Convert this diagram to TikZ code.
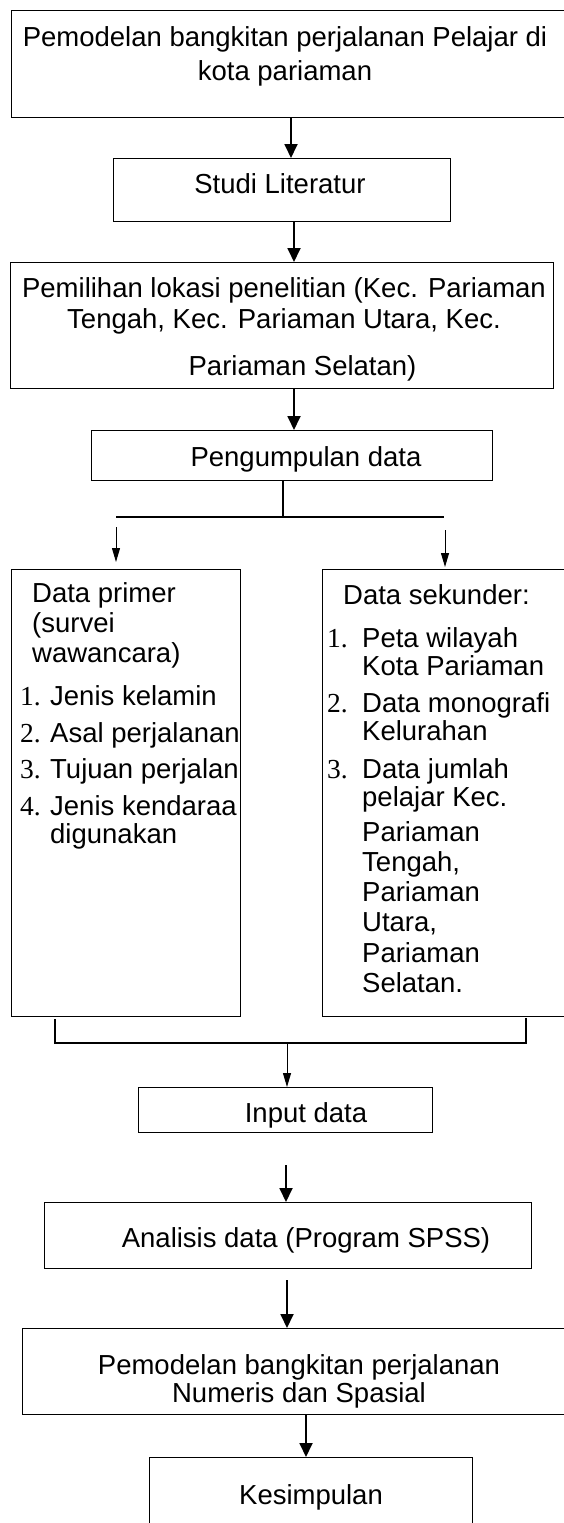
\documentclass[tikz,border=0pt]{standalone}
\usepackage{fontspec}
\setmainfont{Liberation Sans}
\newfontfamily\numfont{Liberation Serif}
\usetikzlibrary{arrows.meta}
\newcommand{\nr}[2][30pt]{\makebox[#1][l]{\numfont #2.}}
\begin{document}
\begin{tikzpicture}[x=1pt,y=-1pt,
  box/.style={draw,line width=1.2pt,inner sep=0pt,anchor=north west},
  txt/.style={inner sep=0pt,anchor=base,font=\fontsize{27.5}{30}\selectfont},
  arr/.style={line width=1.8pt,-{Triangle[width=13pt,length=14pt]}},
  thinarr/.style={line width=1pt,-{Triangle[width=8pt,length=14pt]}},
  link/.style={line width=1.2pt}]
\useasboundingbox (0,0) rectangle (564,1523);
\node[box,minimum width=569pt,minimum height=107pt] (judul) at (11,10) {};
\node[box,minimum width=337pt,minimum height=63pt] (studi) at (113,158) {};
\node[box,minimum width=543pt,minimum height=126pt] (lokasi) at (10,262) {};
\node[box,minimum width=401pt,minimum height=50pt] (kumpul) at (91,430) {};
\node[box,minimum width=229pt,minimum height=447pt] (primer) at (11,569) {};
\node[box,minimum width=258pt,minimum height=447pt] (sekunder) at (322,569) {};
\node[box,minimum width=294pt,minimum height=45pt] (input) at (138,1087) {};
\node[box,minimum width=487pt,minimum height=66pt] (analisis) at (44,1202) {};
\node[box,minimum width=558pt,minimum height=86pt] (model) at (22,1328) {};
\node[box,minimum width=323pt,minimum height=100pt] (simpul) at (149,1457) {};

% multi-line texts sit on the baseline of their last line
\node[txt,align=center] (t-judul) at (285,80) {Pemodelan bangkitan perjalanan Pelajar di\\[4pt]kota pariaman};
\node[txt] (t-studi) at (280,193) {Studi Literatur};
\node[txt,align=center] (t-lokasi) at (284,375) {Pemilihan lokasi penelitian (Kec. Pariaman\\[1pt]Tengah, Kec. Pariaman Utara, Kec.\\[17pt]\hspace*{37pt}Pariaman Selatan)};
\node[txt] (t-kumpul) at (306,466) {Pengumpulan data};
\node[txt,align=left,anchor=base west] (t-primer) at (20,843) {\hspace*{12pt}Data primer\\
  \hspace*{12pt}(survei\\
  \hspace*{12pt}wawancara)\\[13pt]
  \nr{1}Jenis kelamin\\[7pt]
  \nr{2}Asal perjalanan\\[6pt]
  \nr{3}Tujuan perjalan\\[7pt]
  \nr{4}Jenis kendaraa\\[-2pt]
  \hspace*{30pt}digunakan};
\node[txt,align=left,anchor=base west] (t-sekunder) at (327,992) {\hspace*{16pt}Data sekunder:\\[13pt]
  \nr[35pt]{1}Peta wilayah\\[-2pt]
  \hspace*{35pt}Kota Pariaman\\[7pt]
  \nr[35pt]{2}Data monografi\\[-2pt]
  \hspace*{35pt}Kelurahan\\[8pt]
  \nr[35pt]{3}Data jumlah\\[-2pt]
  \hspace*{35pt}pelajar Kec.\\[5pt]
  \hspace*{35pt}Pariaman\\
  \hspace*{35pt}Tengah,\\
  \hspace*{35pt}Pariaman\\
  \hspace*{35pt}Utara,\\[1pt]
  \hspace*{35pt}Pariaman\\
  \hspace*{35pt}Selatan.};
\node[txt] (t-input) at (306,1122) {Input data};
\node[txt] (t-analisis) at (306,1247) {Analisis data (Program SPSS)};
\node[txt,align=center] (t-model) at (299,1402) {Pemodelan bangkitan perjalanan\\[-2pt]Numeris dan Spasial};
\node[txt] (t-simpul) at (311,1504) {Kesimpulan};

\draw[arr] (judul.south -| 291,0) -- (studi.north -| 291,0);
\draw[arr] (studi.south -| 294,0) -- (lokasi.north -| 294,0);
\draw[arr] (lokasi.south -| 294,0) -- (kumpul.north -| 294,0);
% cabang data primer / sekunder
\coordinate (split) at (283,517);
\coordinate (sl) at (116,517);
\coordinate (sr) at (444,517);
\coordinate (pl) at (116,527);
\coordinate (pr) at (445,530);
\draw[link] (kumpul.south -| split) -- (split);
\draw[link] (sl) -- (sr);
\draw[thinarr,shorten >=7pt] (pl) -- (primer.north -| pl);
\draw[thinarr,shorten >=2pt] (pr) -- (sekunder.north -| pr);
% gabungan ke input data
\coordinate (bl) at (55,1043);
\coordinate (br) at (526,1043);
\coordinate (bm) at (287,1043);
\draw[link] (primer.south -| bl) ++(0,2) -- (bl) -- (br) -- ++(0,-25);
\draw[thinarr] (bm) -- (input.north -| bm);
\coordinate (a5) at (286,1165);
\coordinate (a6) at (287,1280);
\draw[arr] (a5) -- (analisis.north -| a5);
\draw[arr] (a6) -- (model.north -| a6);
\draw[arr] (model.south -| 306,0) -- (simpul.north -| 306,0);
\end{tikzpicture}
\end{document}
